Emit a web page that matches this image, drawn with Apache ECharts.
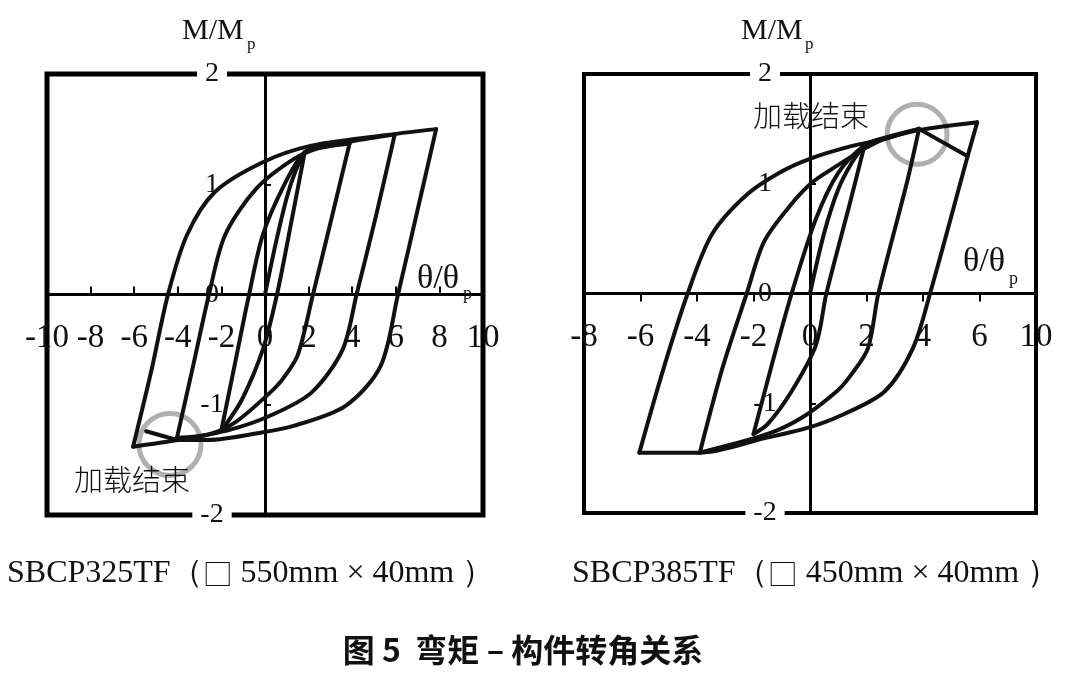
<!DOCTYPE html>
<html>
<head>
<meta charset="utf-8">
<script src="https://cdn.jsdelivr.net/npm/echarts/dist/echarts.min.js"></script>
<style>
html,body{margin:0;padding:0;background:#fff;}
#chart{width:1080px;height:673px;}
</style>
</head>
<body>
<div id="chart"></div>
<script>
// ---------- tick labels ----------
const L_XLABELS = ['-10','-8','-6','-4','-2','0','2','4','6','8','10'];
const R_XLABELS = ['-8','-6','-4','-2','0','2','4','6','10'];
const Y_LABELS  = ['-2','-1','0','1','2'];

// ---------- left specimen SBCP325TF : branches [theta/theta_p, M/M_p] ----------
const L_INITIAL = [[0,0],[0.5,0.47],[1.0,0.88],[1.4,1.12],[1.82,1.29]];
const L_B1 = [[1.82,1.29],[1.2,0.65],[0.55,0],[-0.1,-0.5],[-1.05,-0.95],[-1.83,-1.19],[-2.0,-1.23]];
const L_B2 = [[-2.0,-1.23],[-1.35,-0.6],[-0.73,0],[-0.1,0.54],[0.87,0.99],[1.82,1.29],[2.8,1.34],[3.88,1.37]];
const L_B3 = [[3.88,1.37],[3.04,0.68],[2.2,0],[1.5,-0.55],[0.8,-0.77],[0.23,-0.89],[-1.37,-1.16],[-2.6,-1.27],[-4.04,-1.30]];
const L_B4 = [[-4.04,-1.30],[-3.3,-0.65],[-2.57,0],[-1.83,0.54],[-0.4,0.96],[1.33,1.23],[2.5,1.33],[4.0,1.39],[5.95,1.45]];
const L_B5 = [[5.95,1.45],[5.1,0.72],[4.2,0],[3.56,-0.5],[2.13,-0.89],[0.23,-1.1],[-1.67,-1.23],[-4.0,-1.32],[-6.05,-1.38]];
const L_B6 = [[-6.05,-1.38],[-5.2,-0.68],[-4.45,0],[-3.58,0.54],[-2.3,0.93],[-0.1,1.2],[2.13,1.35],[5.3,1.44],[7.85,1.5]];
const L_B7 = [[7.85,1.5],[6.98,0.75],[6.1,0],[5.3,-0.65],[3.7,-1.01],[1.35,-1.19],[-0.1,-1.25],[-2.6,-1.32],[-4.04,-1.32]];
const L_END = [[-4.04,-1.32],[-5.45,-1.24]];
const L_END_MARK = [[-4.36,-1.36]];

// ---------- right specimen SBCP385TF ----------
const R_INITIAL = [[0,0],[0.5,0.55],[1.0,0.95],[1.5,1.2],[1.93,1.35]];
const R_B1 = [[1.93,1.35],[1.43,0.84],[0.58,0],[0.21,-0.47],[-0.65,-0.89],[-1.5,-1.19],[-2.0,-1.28]];
const R_B2 = [[-2.0,-1.28],[-1.3,-0.6],[-0.65,0],[0.21,0.68],[1.0,1.1],[1.93,1.35],[2.65,1.42],[3.86,1.5]];
const R_B3 = [[3.86,1.5],[3.44,1.02],[2.42,0],[2.05,-0.5],[1.4,-0.76],[0.95,-0.89],[-0.28,-1.13],[-1.5,-1.28],[-3.9,-1.45]];
const R_B4 = [[-3.9,-1.45],[-3.1,-0.68],[-2.24,0],[-1.63,0.47],[-0.77,0.78],[0.02,1.0],[0.81,1.14],[1.93,1.32],[2.65,1.41],[3.89,1.49],[5.92,1.56]];
const R_B5 = [[5.92,1.56],[5.58,1.25],[4.25,0],[3.64,-0.5],[2.65,-0.89],[1.19,-1.1],[-0.03,-1.22],[-1.63,-1.32],[-3.9,-1.45],[-6.04,-1.45]];
const R_B6 = [[-6.04,-1.45],[-5.18,-0.68],[-4.33,0],[-3.47,0.54],[-2.24,0.9],[-1.02,1.11],[0.02,1.23],[1.43,1.34],[2.65,1.41],[3.86,1.5]];
const R_END = [[3.86,1.5],[5.58,1.25]];
const R_END_MARK = [[3.79,1.45]];

const LEFT_BRANCHES  = [L_INITIAL,L_B1,L_B2,L_B3,L_B4,L_B5,L_B6,L_B7];
const RIGHT_BRANCHES = [R_INITIAL,R_B1,R_B2,R_B3,R_B4,R_B5,R_B6];

const SERIF = '"Liberation Serif","Times New Roman",serif';
const CJK = '"Noto Sans CJK SC",sans-serif';
const INK = '#111';

const GRIDS = [
  {left:47, top:74, width:436, height:441, border:5},
  {left:584, top:74, width:452, height:439, border:4}
];

function curve(data, idx, smooth){
  return {type:'line', xAxisIndex:idx, yAxisIndex:idx, data:data, smooth:smooth,
    showSymbol:false, symbol:'none', z:3, silent:true,
    lineStyle:{color:INK, width:4, cap:'round', join:'round'}};
}
function mark(data, idx, size){
  return {type:'scatter', xAxisIndex:idx, yAxisIndex:idx, data:data, symbol:'circle',
    symbolSize:size, z:1, silent:true,
    itemStyle:{color:'rgba(0,0,0,0)', borderColor:'#9c9c9c', borderWidth:5}};
}
function xAxisDef(idx, min, max, labels, inside){
  return {type:'value', gridIndex:idx, min:min, max:max, interval:2,
    position:'bottom', offset:-GRIDS[idx].height/2,
    axisLine:{onZero:false, lineStyle:{color:'#000', width:3}},
    axisTick:{show:true, inside:inside, length:8, lineStyle:{color:'#000', width:2}},
    splitLine:{show:false},
    axisLabel:{margin:27, fontSize:33, fontFamily:SERIF, color:INK,
      showMinLabel:true, showMaxLabel:true, hideOverlap:false,
      formatter:function(v){return labels[Math.round((v-min)/2)];}}};
}
function yAxisDef(idx, margin){
  return {type:'value', gridIndex:idx, min:-2, max:2, interval:1,
    position:'left', offset:-GRIDS[idx].width/2,
    axisLine:{onZero:false, lineStyle:{color:'#000', width:3}},
    axisTick:{show:true, inside:true, length:6, lineStyle:{color:'#000', width:2}},
    splitLine:{show:false},
    axisLabel:{margin:margin, align:'center', fontSize:28, fontFamily:SERIF, color:INK,
      showMinLabel:true, showMaxLabel:true, hideOverlap:false,
      formatter:function(v){
        const s = Y_LABELS[Math.round(v+2)];
        return Math.abs(v)===2 ? '{w|'+s+'}' : s;
      },
      rich:{w:{backgroundColor:'#fff', padding:[2,8,2,8], fontSize:28, fontFamily:SERIF, color:INK}}}};
}
function txt(text, x, y, font, align){
  return {type:'text', z:10, silent:true, style:{text:text, x:x, y:y, font:font, fill:INK,
    align:align||'left', textAlign:align||'left', verticalAlign:'middle', textVerticalAlign:'middle'}};
}
function caption(a, dims, x){
  const t = '{a|'+a+'（}{b|□}{a| '+dims+' ）}';
  return {type:'text', z:10, silent:true, style:{text:t, x:x, y:574, fill:INK,
    align:'left', textAlign:'left', verticalAlign:'middle', textVerticalAlign:'middle',
    rich:{a:{fontSize:32, fontFamily:SERIF, color:INK},
          b:{fontSize:30, fontFamily:CJK, fontWeight:300, color:INK}}}};
}

const series = [];
LEFT_BRANCHES.forEach(b => series.push(curve(b, 0, 0.3)));
series.push(curve(L_END, 0, false));
series.push(mark(L_END_MARK, 0, 62));
RIGHT_BRANCHES.forEach(b => series.push(curve(b, 1, 0.3)));
series.push(curve(R_END, 1, false));
series.push(mark(R_END_MARK, 1, 60));

const chart = echarts.init(document.getElementById('chart'), null, {renderer:'canvas'});
chart.setOption({
  backgroundColor:'#fff',
  animation:false,
  grid:GRIDS.map(g => ({left:g.left, top:g.top, width:g.width, height:g.height,
    show:true, borderColor:'#000', borderWidth:g.border, backgroundColor:'transparent',
    containLabel:false, outerBoundsMode:'none'})),
  xAxis:[xAxisDef(0,-10,10,L_XLABELS,true), xAxisDef(1,-8,8,R_XLABELS,false)],
  yAxis:[yAxisDef(0,53), yAxisDef(1,45)],
  series:series,
  graphic:[
    txt('M/M', 182, 31, '30px '+SERIF),
    txt('p', 247, 45, '17px '+SERIF),
    txt('M/M', 741, 31, '30px '+SERIF),
    txt('p', 805, 45, '17px '+SERIF),
    txt('θ/θ', 417, 279, '34px '+SERIF),
    txt('p', 463, 294, '18px '+SERIF),
    txt('θ/θ', 963, 262, '34px '+SERIF),
    txt('p', 1009, 279, '18px '+SERIF),
    txt('加载结束', 132, 480, '300 29px '+CJK, 'center'),
    txt('加载结束', 811, 116, '300 29px '+CJK, 'center'),
    caption('SBCP325TF', '550mm × 40mm', 7),
    caption('SBCP385TF', '450mm × 40mm', 572),
    txt('图 5  弯矩 – 构件转角关系', 523, 650, 'bold 32px '+CJK, 'center')
  ]
});
</script>
</body>
</html>
